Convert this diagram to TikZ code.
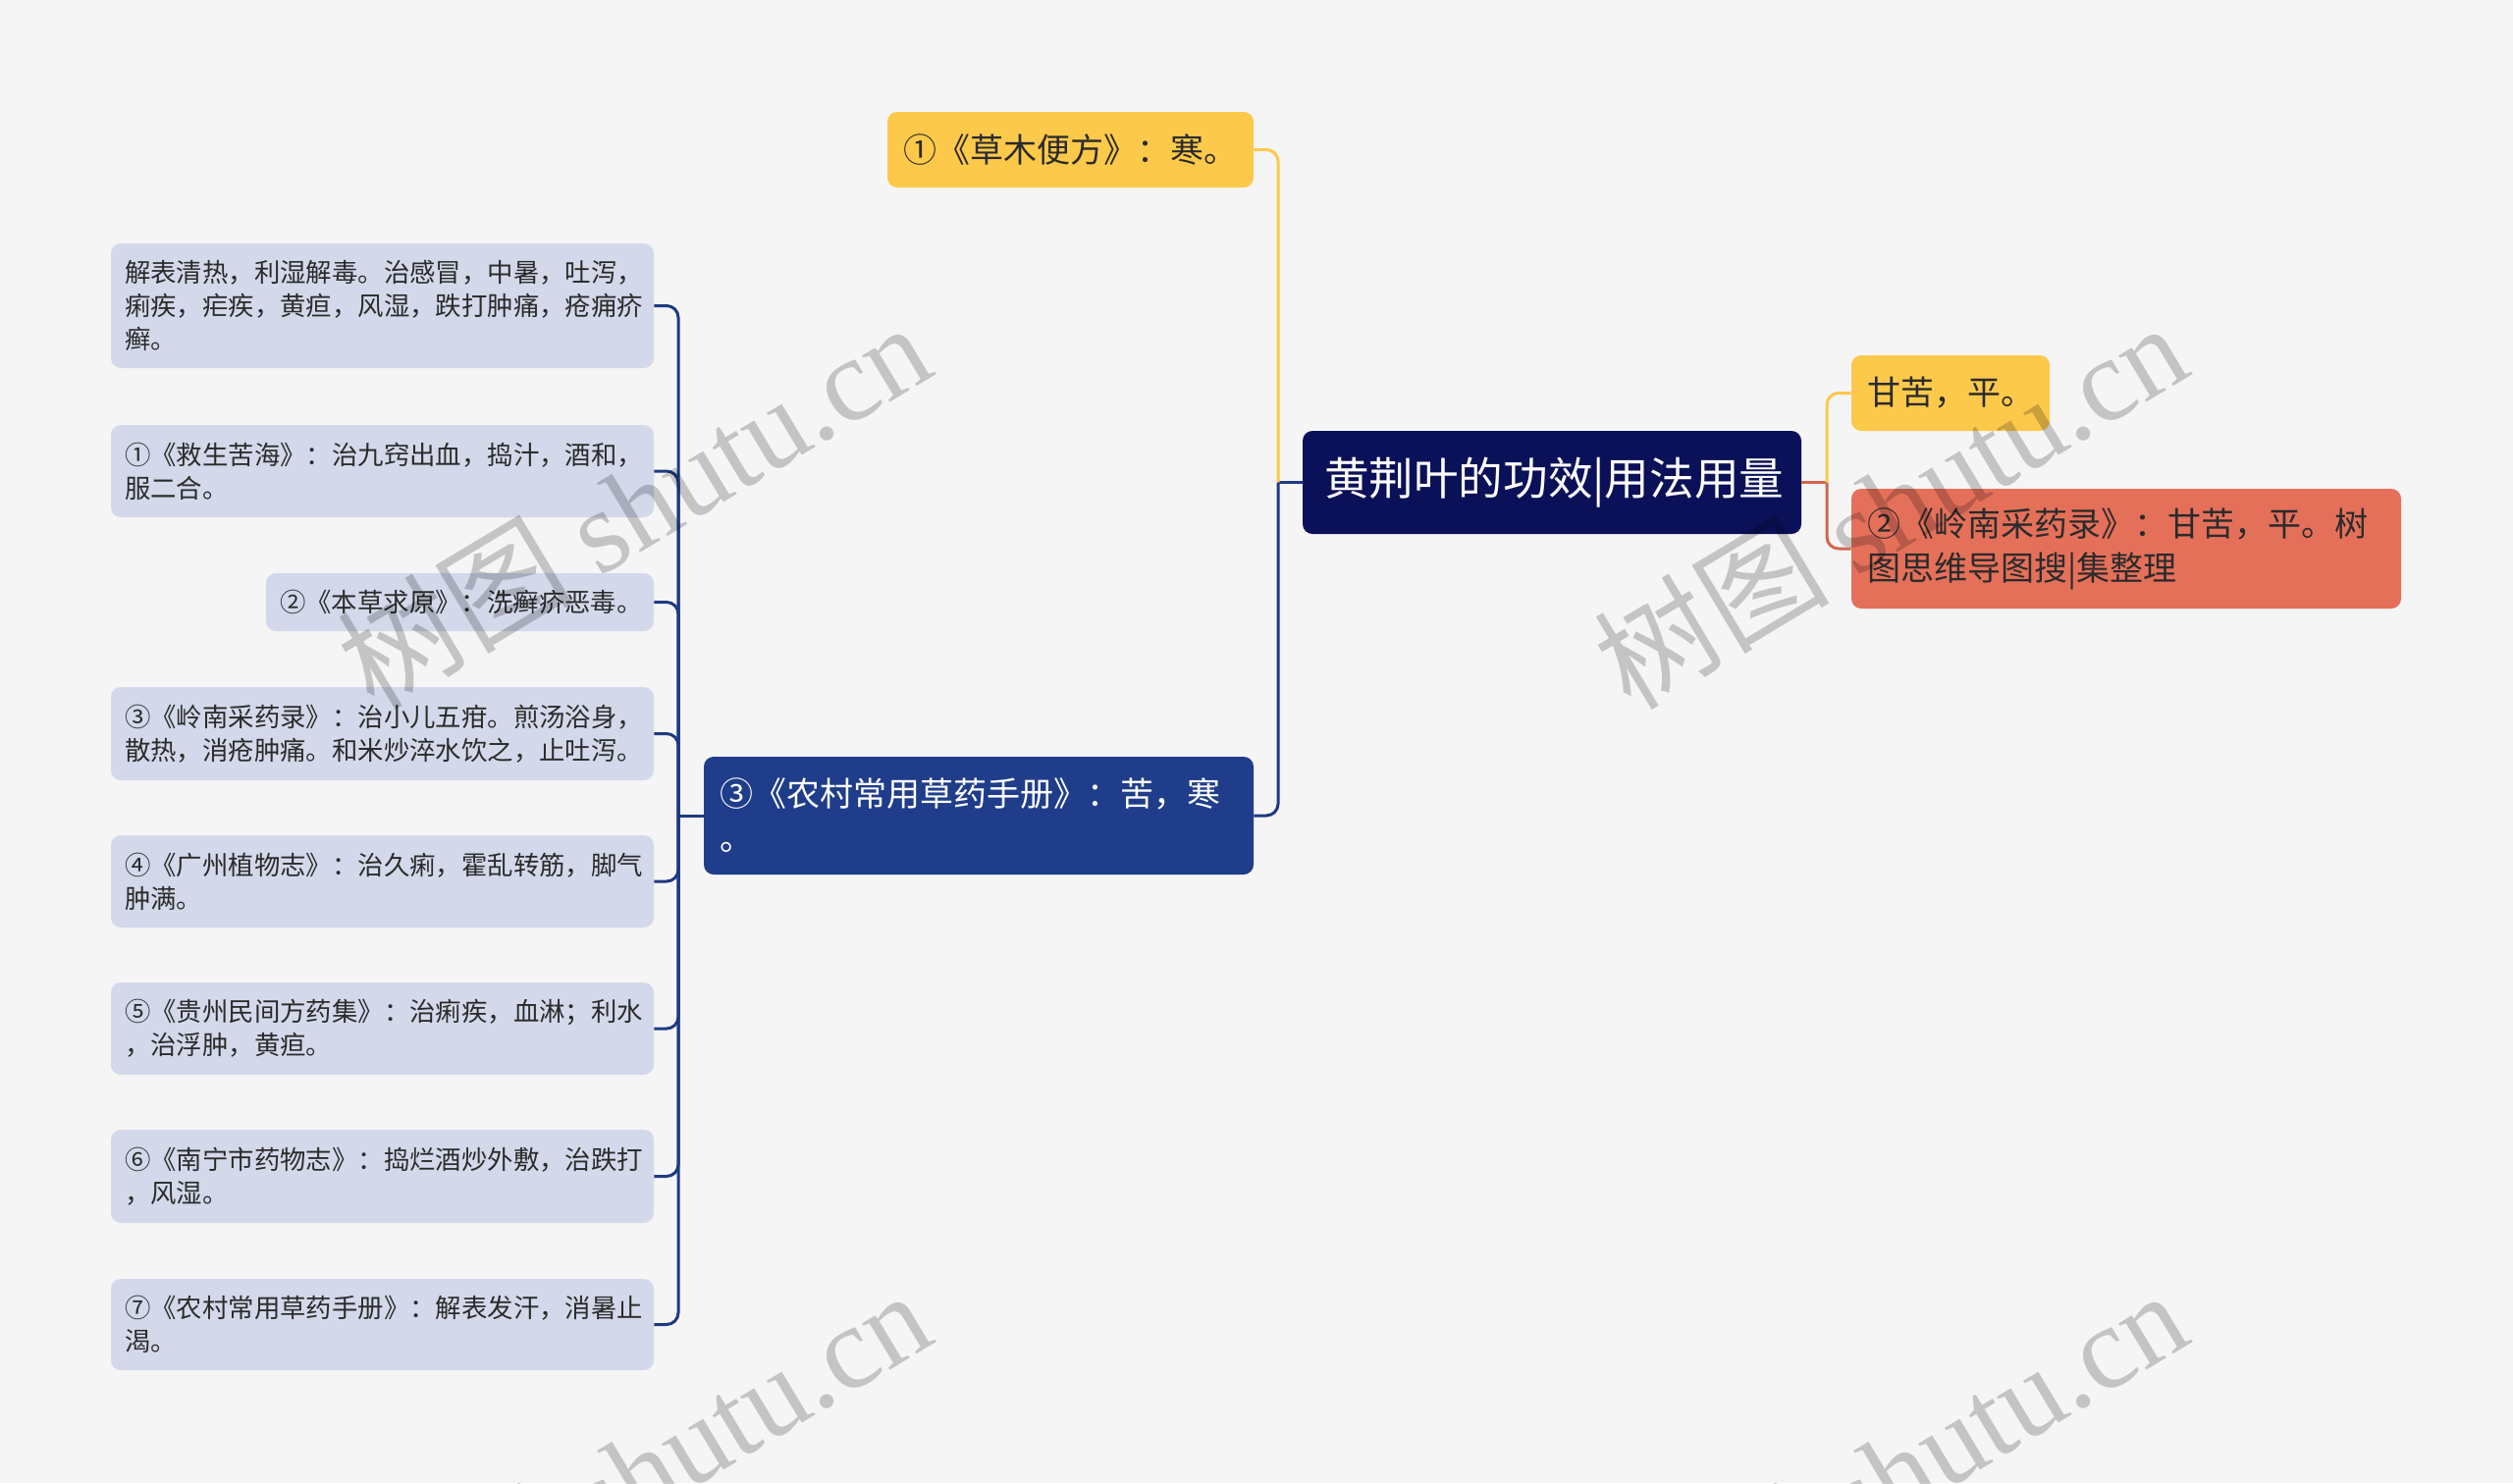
\documentclass[tikz,border=0pt]{standalone}
\usepackage{fontspec}
\setmainfont{Noto Sans CJK SC}
\newfontfamily\wmfont{Liberation Serif}
\usepackage{xcolor}
\usepackage{tikz}
\definecolor{mbg}{HTML}{F5F5F5}
\definecolor{mroot}{HTML}{0B1158}
\definecolor{mblue}{HTML}{1F3D8A}
\definecolor{mline}{HTML}{1E3A82}
\definecolor{mleaf}{HTML}{D3D9EA}
\definecolor{myellow}{HTML}{FDC94B}
\definecolor{mred}{HTML}{E5705A}
\definecolor{mredline}{HTML}{D0664F}
\definecolor{mtext}{HTML}{2B2B2B}

\begin{document}
\begin{tikzpicture}[x=0.5pt, y=-0.5pt,
    rootbox/.style={rectangle, fill=mroot, rounded corners=5pt, inner xsep=11pt, inner ysep=3pt, text width=232pt, minimum height=52.5pt, align=left, text=white, font=\fontsize{22.8pt}{28pt}\selectfont},
    topicbox/.style={rectangle, rounded corners=5pt, inner xsep=8pt, inner ysep=3pt, align=left, text=mtext, font=\fontsize{17pt}{22.5pt}\selectfont},
    leafbox/.style={rectangle, fill=mleaf, rounded corners=5pt, inner xsep=7pt, inner ysep=3pt, text width=262.5pt, align=left, text=mtext, font=\fontsize{13.2pt}{17pt}\selectfont},
    link/.style={line width=1.5pt, mline, rounded corners=6pt},
    wmark/.style={rotate=31, text=black, text opacity=0.2, font=\fontsize{60pt}{60pt}\selectfont}
]
    \useasboundingbox (0,0) rectangle (2560,1511);
    \clip (0,0) rectangle (2560,1511);
    \fill[mbg] (0,0) rectangle (2560,1511);

    % centre topic
    \node[rootbox] (root) at (1581,491.5) {黄荆叶的功效|用法用量};

    % left branch
    \node[topicbox, fill=myellow, text width=170.5pt, minimum height=38.5pt] (t1) at (1090.5,152.5) {①《草木便方》：寒。};
    \node[topicbox, fill=mblue, text=white, text width=264pt, minimum height=60pt] (t2) at (997,831) {③《农村常用草药手册》：苦，寒\\。};

    % right branch
    \node[topicbox, fill=myellow, text width=85pt, minimum height=38.5pt] (r1) at (1987,400.5) {甘苦，平。};
    \node[topicbox, fill=mred, text width=264pt, minimum height=61pt] (r2) at (2166,559) {②《岭南采药录》：甘苦，平。树\\图思维导图搜|集整理};

    % leaves of t2
    \node[leafbox, minimum height=63.5pt] (k1) at (389.5,311.5) {解表清热，利湿解毒。治感冒，中暑，吐泻，\\痢疾，疟疾，黄疸，风湿，跌打肿痛，疮痈疥\\癣。};
    \node[leafbox, minimum height=47pt] (k2) at (389.5,480) {①《救生苦海》：治九窍出血，捣汁，酒和，\\服二合。};
    \node[leafbox, text width=183.5pt, minimum height=29.5pt] (k3) at (468.5,613.5) {②《本草求原》：洗癣疥恶毒。};
    \node[leafbox, minimum height=47.5pt] (k4) at (389.5,747.5) {③《岭南采药录》：治小儿五疳。煎汤浴身，\\散热，消疮肿痛。和米炒淬水饮之，止吐泻。};
    \node[leafbox, minimum height=47pt] (k5) at (389.5,898) {④《广州植物志》：治久痢，霍乱转筋，脚气\\肿满。};
    \node[leafbox, minimum height=47pt] (k6) at (389.5,1048) {⑤《贵州民间方药集》：治痢疾，血淋；利水\\，治浮肿，黄疸。};
    \node[leafbox, minimum height=47.5pt] (k7) at (389.5,1198.5) {⑥《南宁市药物志》：捣烂酒炒外敷，治跌打\\，风湿。};
    \node[leafbox, minimum height=46.5pt] (k8) at (389.5,1349.5) {⑦《农村常用草药手册》：解表发汗，消暑止\\渴。};

    % connectors
    \coordinate (jl) at (1302,491.5);
    \coordinate (jr) at (1861,491.5);
    \coordinate (jb) at (691,831);
    \draw[link] (root.west) -- (jl);
    \draw[link, myellow] (jl) |- (t1.east);
    \draw[link] (jl) |- (t2.east);
    \draw[link, mredline] (root.east) -- (jr);
    \draw[link, myellow] (jr) |- (r1.west);
    \draw[link, mredline] (jr) |- (r2.west);
    \draw[link] (t2.west) -- (jb);
    \foreach \i in {1,...,8}
        \draw[link] (jb) |- (k\i.east);

    % watermarks
    \node[wmark] (w1) at (645,514) {树图 {\wmfont shutu.cn}};
    \node[wmark] (w2) at (1925,514) {树图 {\wmfont shutu.cn}};
    \node[wmark] (w3) at (645,1500) {树图 {\wmfont shutu.cn}};
    \node[wmark] (w4) at (1925,1500) {树图 {\wmfont shutu.cn}};
\end{tikzpicture}
\end{document}
